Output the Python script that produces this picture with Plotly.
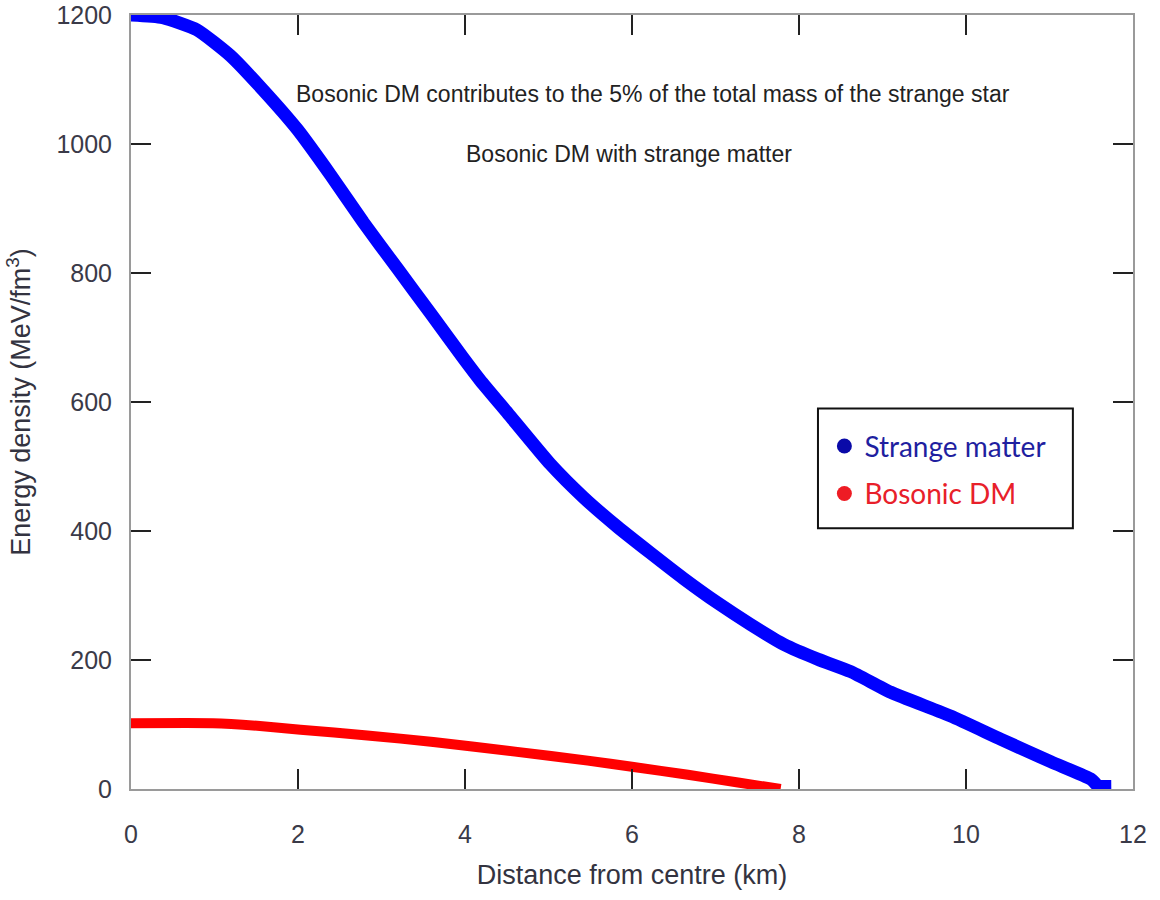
import plotly.graph_objects as go

# Strange matter energy density (MeV/fm^3) vs distance (km)
sm_r = [0, 0.38, 0.79, 1.19, 1.58, 1.99, 2.39, 2.78, 3.19, 3.59, 3.98, 4.18, 4.51,
        5.02, 5.42, 5.83, 6.22, 6.62, 7.03, 7.42, 7.82, 8.23, 8.62, 9.1, 9.82,
        10.42, 11.02, 11.5, 11.58, 11.74]
sm_e = [1200, 1196, 1177, 1137, 1084, 1023, 952, 879, 807, 737, 668, 634, 583,
        504, 452, 406, 366, 326, 288, 255, 224, 201, 182, 150, 113,
        77, 42, 15, 5, 4]

# Bosonic DM energy density
dm_r = [0, 0.98, 1.51, 2.03, 2.83, 3.62, 4.6, 5.47, 6.02, 6.67, 7.27, 7.78]
dm_e = [102, 102, 98, 92, 83, 73, 58, 44, 34, 22, 10, 0]

x_ticks = [0, 2, 4, 6, 8, 10, 12]
y_ticks = [0, 200, 400, 600, 800, 1000, 1200]

note1 = "Bosonic DM contributes to the 5% of the total mass of the strange star"
note2 = "Bosonic DM with strange matter"

fig = go.Figure()
fig.add_trace(go.Scatter(x=sm_r, y=sm_e, mode="lines",
                         line=dict(color="#0000ff", width=13, shape="spline", smoothing=0.5),
                         showlegend=False, cliponaxis=False))
fig.add_trace(go.Scatter(x=dm_r, y=dm_e, mode="lines",
                         line=dict(color="#ff0000", width=10, shape="spline", smoothing=0.5),
                         showlegend=False, cliponaxis=False))
# legend entries
fig.add_trace(go.Scatter(x=[None], y=[None], mode="markers", name="Strange matter",
                         legendgroup="a",
                         marker=dict(color="#0a0aa8", size=15, symbol="circle")))
fig.add_trace(go.Scatter(x=[None], y=[None], mode="markers", name="<span style='color:#e8202a'>Bosonic DM</span>",
                         legendgroup="b",
                         marker=dict(color="#ee1c24", size=15, symbol="circle")))

tickfont = dict(family="Liberation Sans, Arial", size=25, color="#3a3a48")
axcommon = dict(showline=True, linecolor="#9a9a9a", linewidth=2, mirror="ticks",
                ticks="inside", ticklen=20, tickwidth=2, tickcolor="#222222",
                showgrid=False, zeroline=False, tickfont=tickfont, automargin=False,
                ticklabeloverflow="allow")

fig.update_xaxes(range=[0, 12], tickvals=x_ticks, ticklabelstandoff=22,
                 title=dict(text="Distance from centre (km)", standoff=18,
                            font=dict(family="Liberation Sans, Arial", size=27, color="#333340")),
                 **axcommon)
fig.update_yaxes(range=[0, 1200], tickvals=y_ticks, ticklabelstandoff=12,
                 title=dict(text="Energy density (MeV/fm<sup>3</sup>)", standoff=18,
                            font=dict(family="Liberation Sans, Arial", size=27, color="#333340")),
                 **axcommon)

fig.add_annotation(text=note1, xref="paper", yref="paper", x=0.521, y=0.9176,
                   showarrow=False, font=dict(family="Liberation Sans, Arial", size=23, color="#222222"))
fig.add_annotation(text=note2, xref="paper", yref="paper", x=0.497, y=0.8404,
                   showarrow=False, font=dict(family="Liberation Sans, Arial", size=23, color="#222222"))

fig.add_shape(type="rect", xref="paper", yref="paper", x0=0.6856, x1=0.940, y0=0.337, y1=0.4916,
              line=dict(color="#111111", width=2), fillcolor="rgba(0,0,0,0)")

fig.update_layout(
    width=1160, height=900,
    margin=dict(l=131, r=27, t=15, b=111, autoexpand=False),
    paper_bgcolor="white", plot_bgcolor="white",
    legend=dict(x=0.692, y=0.475, xanchor="left", yanchor="top",
                bgcolor="rgba(0,0,0,0)", borderwidth=0, traceorder="grouped",
                tracegroupgap=8,
                font=dict(family="Lato, Open Sans", size=28, color="#1f1fa0")),
)

fig.write_html("out.html")
